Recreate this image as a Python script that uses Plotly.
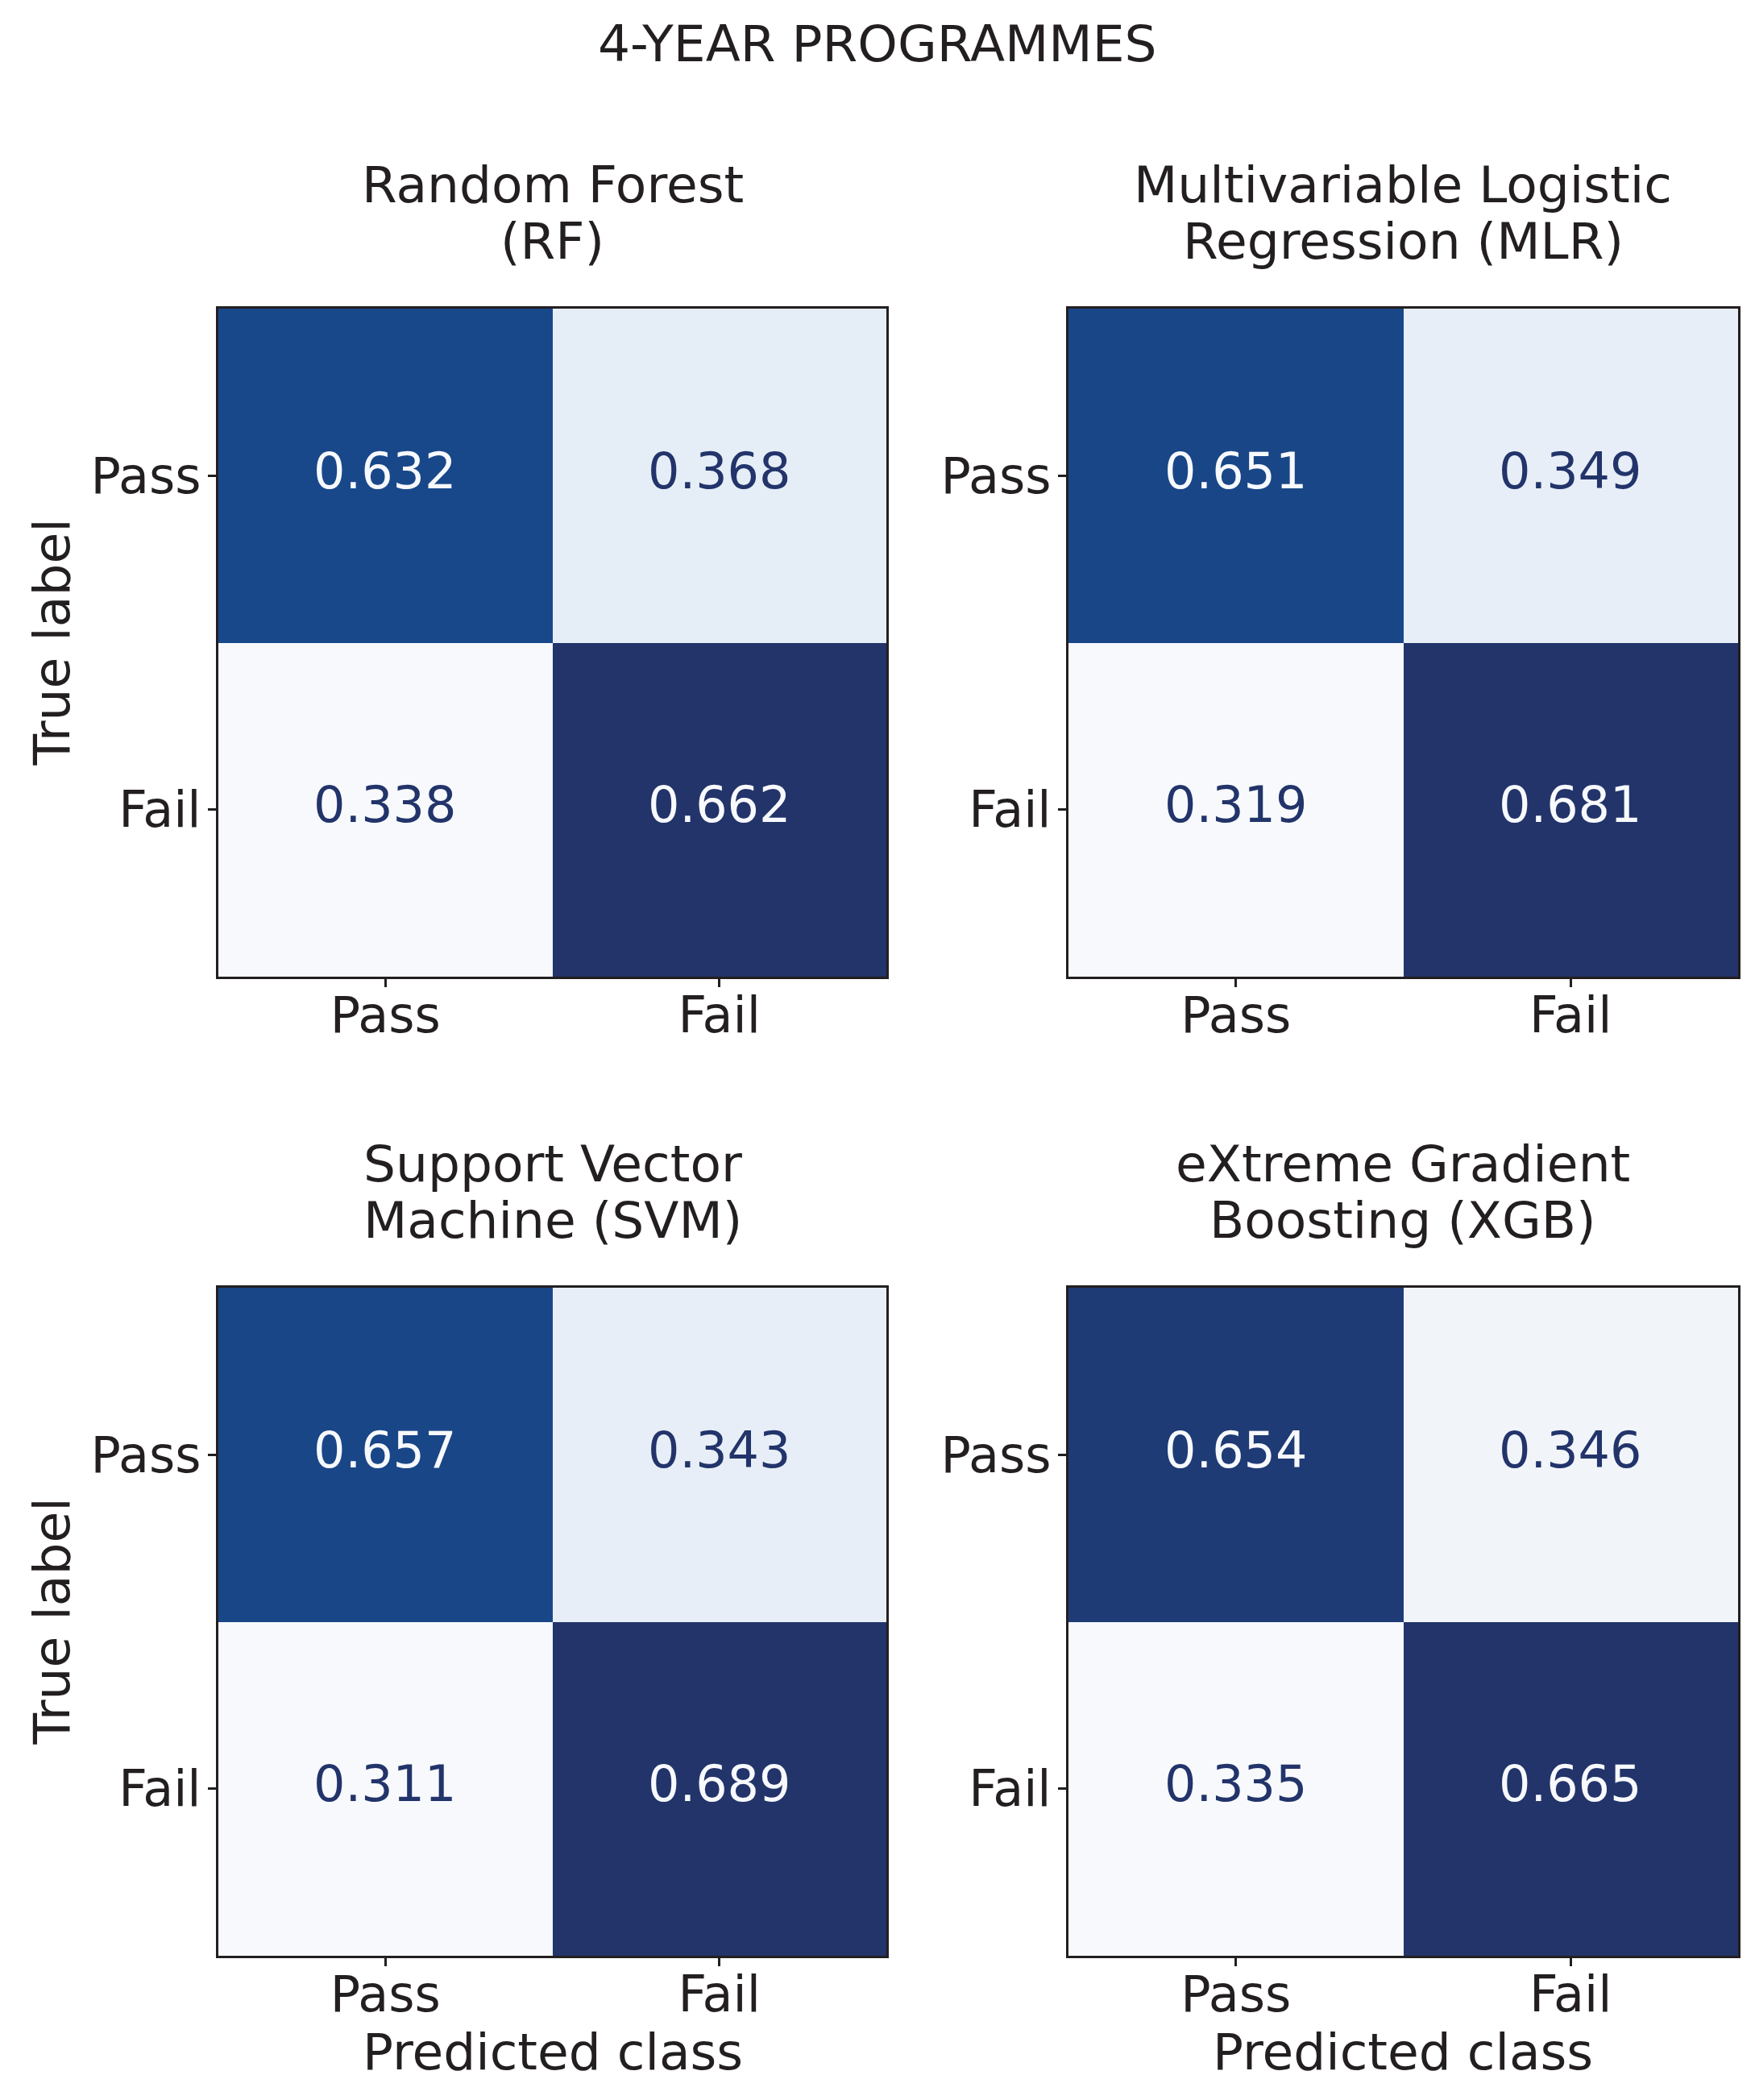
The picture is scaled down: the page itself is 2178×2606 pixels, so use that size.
import plotly.graph_objects as go

# ---------------- data ----------------
classes = ["Pass", "Fail"]
suptitle = "4-YEAR PROGRAMMES"
model_titles = [
    ["Random Forest", "(RF)"],
    ["Multivariable Logistic", "Regression (MLR)"],
    ["Support Vector", "Machine (SVM)"],
    ["eXtreme Gradient", "Boosting (XGB)"],
]
rf_matrix = [[0.632, 0.368], [0.338, 0.662]]
mlr_matrix = [[0.651, 0.349], [0.319, 0.681]]
svm_matrix = [[0.657, 0.343], [0.311, 0.689]]
xgb_matrix = [[0.654, 0.346], [0.335, 0.665]]
matrices = [rf_matrix, mlr_matrix, svm_matrix, xgb_matrix]
x_title = "Predicted class"
y_title = "True label"

# ---------------- style ----------------
W, H = 2178, 2606
FONT = "DejaVu Sans"
INK = "#231f20"
blues = [
    [0.0, "#f7f9fc"], [0.125, "#dfe9f5"], [0.25, "#c8d9ed"], [0.375, "#a3c6df"],
    [0.5, "#74aad3"], [0.625, "#4c8ec3"], [0.75, "#2d6db0"], [0.875, "#154f95"],
    [1.0, "#22346a"],
]
LOW_TXT = blues[0][1]
HIGH_TXT = blues[-1][1]

col_px = [(271, 1100), (1326, 2157)]
row_px = [(383, 1212), (1598, 2427)]

def px_x(p):
    return p / W

def px_y(p):
    return 1 - p / H

fig = go.Figure()
annotations = []

for i, (mat, ttl) in enumerate(zip(matrices, model_titles)):
    r, c = divmod(i, 2)
    ax = "" if i == 0 else str(i + 1)
    xa, ya = "x" + ax, "y" + ax
    zmin = min(min(row) for row in mat)
    zmax = max(max(row) for row in mat)
    fig.add_trace(go.Heatmap(
        z=mat, x=classes, y=classes, xaxis=xa, yaxis=ya,
        colorscale=blues, zmin=zmin, zmax=zmax, showscale=False,
        hoverinfo="skip",
    ))
    thresh = (zmin + zmax) / 2
    for ri, row in enumerate(mat):
        for ci, v in enumerate(row):
            annotations.append(dict(
                x=classes[ci], y=classes[ri], xref=xa, yref=ya,
                text=f"{v:.3f}", showarrow=False, yshift=6,
                font=dict(family=FONT, size=62, color=HIGH_TXT if v < thresh else LOW_TXT),
            ))
    x0, x1 = col_px[c]
    y0, y1 = row_px[r]
    fig.layout["xaxis" + ax] = dict(
        domain=[px_x(x0), px_x(x1)], anchor=ya, range=[-0.5, 1.5],
        showline=True, mirror=True, linewidth=3, linecolor=INK,
        ticks="outside", ticklen=10, tickwidth=2.5, tickcolor=INK,
        tickfont=dict(family=FONT, size=62, color=INK),
        showgrid=False, zeroline=False, ticklabelstandoff=-18,
    )
    fig.layout["yaxis" + ax] = dict(
        domain=[px_y(y1), px_y(y0)], anchor=xa, range=[1.5, -0.5],
        showline=True, mirror=True, linewidth=3, linecolor=INK,
        ticks="outside", ticklen=10, tickwidth=2.5, tickcolor=INK,
        tickfont=dict(family=FONT, size=62, color=INK),
        showgrid=False, zeroline=False, ticklabelstandoff=-4,
    )
    xc = (x0 + x1) / 2
    # two-line subplot title
    for li, line in enumerate(ttl):
        annotations.append(dict(
            x=px_x(xc), y=px_y(y0 - 153.5 + 70 * li), xref="paper", yref="paper",
            xanchor="center", yanchor="middle", text=line, showarrow=False,
            font=dict(family=FONT, size=63, color=INK),
        ))
    if r == 1:
        annotations.append(dict(
            x=px_x(xc), y=px_y(2546.5), xref="paper", yref="paper",
            xanchor="center", yanchor="middle", text=x_title, showarrow=False,
            font=dict(family=FONT, size=63, color=INK),
        ))
    if c == 0:
        annotations.append(dict(
            x=px_x(64), y=px_y((y0 + y1) / 2), xref="paper", yref="paper",
            xanchor="center", yanchor="middle", text=y_title, showarrow=False,
            textangle=-90, font=dict(family=FONT, size=63, color=INK),
        ))

annotations.append(dict(
    x=0.5, y=px_y(54.5), xref="paper", yref="paper",
    xanchor="center", yanchor="middle", text=suptitle, showarrow=False,
    font=dict(family=FONT, size=63, color=INK),
))

fig.update_layout(
    width=W, height=H,
    margin=dict(l=0, r=0, t=0, b=0),
    paper_bgcolor="white", plot_bgcolor="white",
    annotations=annotations,
    showlegend=False,
)

fig.write_html("out.html", config={"displayModeBar": False},
               post_script="document.body.style.margin='0px';")
